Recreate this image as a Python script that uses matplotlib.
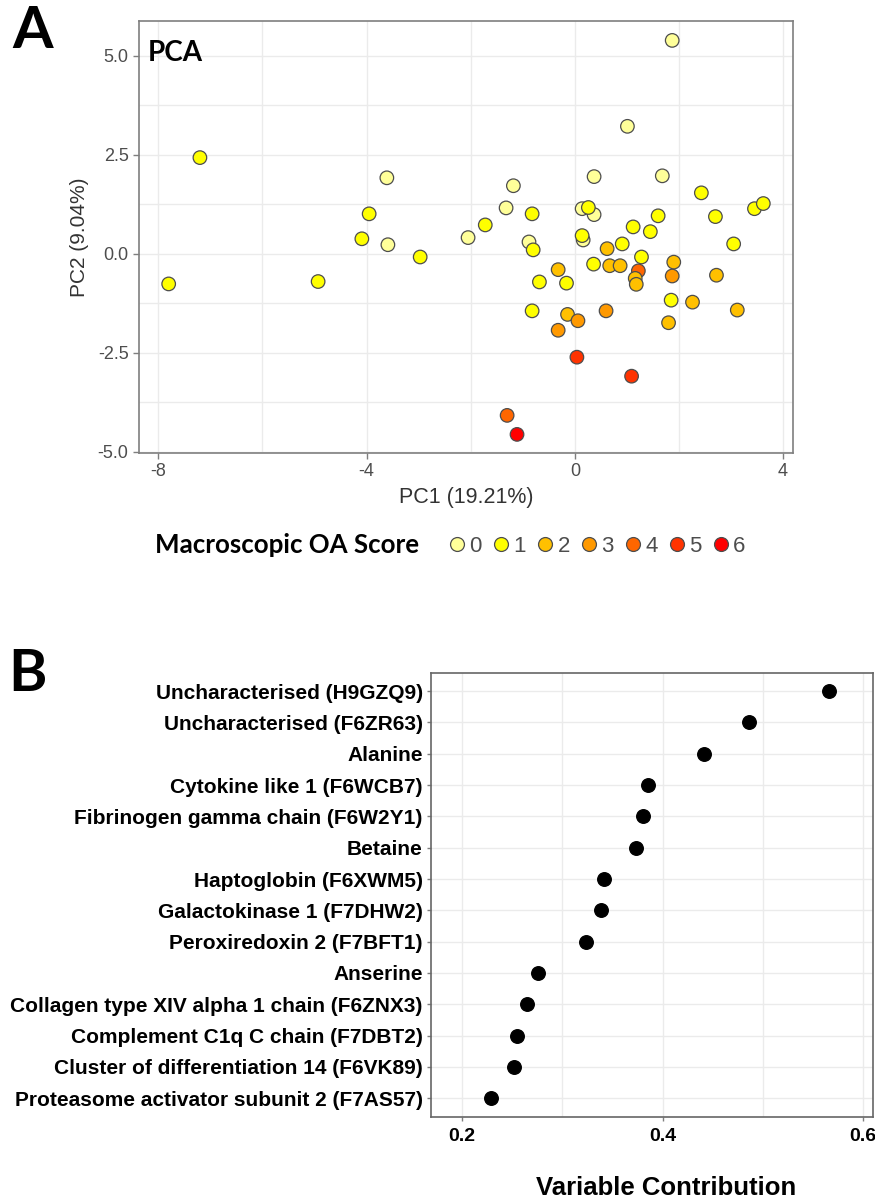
import matplotlib
matplotlib.use("Agg")
import matplotlib.pyplot as plt
from matplotlib.lines import Line2D
from matplotlib.ticker import MultipleLocator

# panel A: PCA scores, coloured by macroscopic OA score
pc1 = [-7.80, -7.20, -4.93, -4.09, -3.95, -3.61, -3.59, -2.97, -2.05, -1.72,
       -1.18, -1.32, -0.82, 0.14, 0.37, 0.26, 0.37, 1.01, 1.87, 1.68,
       2.43, 3.45, 3.62, 2.70, 1.60, 1.12, 1.45, 0.16, 0.14, -0.88,
       -0.80, 3.05, 0.62, 0.91, 1.28, 0.36, 0.67, 0.87, -0.32, 1.90,
       1.22, 1.16, 1.18, 1.87, 2.72, -0.68, -0.16, -0.82, -0.14, 0.06,
       0.60, -0.32, 1.85, 2.26, 3.12, 1.80, 0.04, 1.09, -1.30, -1.11]
pc2 = [-0.76, 2.43, -0.70, 0.38, 1.01, 1.92, 0.23, -0.08, 0.41, 0.73,
       1.72, 1.16, 1.01, 1.14, 0.99, 1.17, 1.95, 3.22, 5.39, 1.97,
       1.54, 1.14, 1.27, 0.94, 0.96, 0.68, 0.56, 0.35, 0.46, 0.30,
       0.10, 0.25, 0.13, 0.25, -0.08, -0.26, -0.30, -0.30, -0.40, -0.21,
       -0.43, -0.62, -0.77, -0.56, -0.54, -0.71, -0.74, -1.44, -1.53, -1.69,
       -1.44, -1.93, -1.17, -1.22, -1.42, -1.74, -2.61, -3.09, -4.08, -4.56]
oa_score = [1, 1, 1, 1, 1, 0, 0, 1, 0, 1,
            0, 0, 1, 0, 0, 1, 0, 0, 0, 0,
            1, 1, 1, 1, 1, 1, 1, 0, 1, 0,
            1, 1, 2, 1, 1, 1, 2, 2, 2, 2,
            4, 2, 2, 3, 2, 1, 1, 1, 2, 3,
            3, 3, 1, 2, 2, 2, 5, 5, 4, 6]
score_levels = [0, 1, 2, 3, 4, 5, 6]
score_colors = ["#FFFF99", "#FFFF00", "#FFC000", "#FF9900", "#FF6600", "#FF3300", "#FF0000"]

# panel B: variable contributions
variables = ["Uncharacterised (H9GZQ9)", "Uncharacterised (F6ZR63)", "Alanine",
             "Cytokine like 1 (F6WCB7)", "Fibrinogen gamma chain (F6W2Y1)", "Betaine",
             "Haptoglobin (F6XWM5)", "Galactokinase 1 (F7DHW2)", "Peroxiredoxin 2 (F7BFT1)",
             "Anserine", "Collagen type XIV alpha 1 chain (F6ZNX3)",
             "Complement C1q C chain (F7DBT2)", "Cluster of differentiation 14 (F6VK89)",
             "Proteasome activator subunit 2 (F7AS57)"]
contribution = [0.566, 0.486, 0.441, 0.386, 0.381, 0.374, 0.342, 0.339, 0.324,
                0.276, 0.265, 0.255, 0.252, 0.229]

grid_col = "#EBEBEB"

fig = plt.figure(figsize=(8.75, 12.02), dpi=100)

# ---------------- panel A ----------------
ax = fig.add_axes([139 / 875, 1 - 453 / 1202, 654 / 875, 432 / 1202])
cols = [score_colors[s] for s in oa_score]
ax.scatter(pc1, pc2, s=95, c=cols, edgecolors="#4D4D4D", linewidths=0.9, zorder=3)
ax.set_xlim(-8.37, 4.19)
ax.set_ylim(-5.03, 5.88)
ax.set_xticks([-8, -4, 0, 4])
ax.set_xticklabels(["-8", "-4", "0", "4"])
ax.set_yticks([-5.0, -2.5, 0.0, 2.5, 5.0])
ax.set_yticklabels(["-5.0", "-2.5", "0.0", "2.5", "5.0"])
ax.xaxis.set_minor_locator(MultipleLocator(2))
ax.yaxis.set_minor_locator(MultipleLocator(1.25))
ax.grid(True, which="both", color=grid_col, lw=1.0, zorder=0)
ax.tick_params(which="minor", length=0)
ax.tick_params(which="major", colors="#7F7F7F", labelcolor="#4D4D4D", labelsize=13,
               length=4, width=1)
for sp in ax.spines.values():
    sp.set_color("#7F7F7F")
    sp.set_linewidth(1.2)
ax.set_axisbelow(True)
ax.set_xlabel("PC1 (19.21%)", fontsize=15.5, color="#333333", family="Liberation Sans", labelpad=5)
ax.set_ylabel("PC2 (9.04%)", fontsize=15, color="#333333", family="Liberation Sans", labelpad=6)
for lab in ax.get_xticklabels() + ax.get_yticklabels():
    lab.set_family("Liberation Sans")
ax.text(0.014, 0.955, "PCA", transform=ax.transAxes, fontsize=20, fontweight="bold",
        family="Lato", va="top", ha="left")

fig.text(12 / 875, 1 - 5 / 1202, "A", fontsize=42, fontweight="bold", family="Lato",
         va="top", ha="left")

# legend
fig.text(155 / 875, 1 - 545 / 1202, "Macroscopic OA Score", fontsize=18.6, fontweight="bold",
         family="Lato", va="center", ha="left")
handles = [Line2D([], [], marker="o", ls="", markersize=10, markerfacecolor=c,
                  markeredgecolor="#4D4D4D", markeredgewidth=0.9) for c in score_colors]
leg = fig.legend(handles, [str(s) for s in score_levels], ncol=7, frameon=False,
                 loc="center left", bbox_to_anchor=(448 / 875, 1 - 546 / 1202),
                 handlelength=0.85, handletextpad=0.12, columnspacing=0.45,
                 borderaxespad=0, borderpad=0,
                 prop={"family": "Liberation Sans", "size": 16})
for t in leg.get_texts():
    t.set_color("#4D4D4D")

# ---------------- panel B ----------------
bx = fig.add_axes([431 / 875, 1 - 1117 / 1202, 442 / 875, 444 / 1202])
ypos = list(range(len(variables)))
bx.scatter(contribution, ypos, s=95, color="black", zorder=3)
bx.set_ylim(len(variables) - 1 + 0.6, -0.58)
bx.set_xlim(0.169, 0.61)
bx.set_yticks(ypos)
bx.set_yticklabels(variables)
bx.set_xticks([0.2, 0.4, 0.6])
bx.set_xticklabels(["0.2", "0.4", "0.6"])
bx.xaxis.set_minor_locator(MultipleLocator(0.1))
bx.grid(True, which="both", axis="x", color=grid_col, lw=1.0, zorder=0)
bx.grid(True, which="major", axis="y", color=grid_col, lw=1.0, zorder=0)
bx.tick_params(which="minor", length=0)
bx.tick_params(which="major", colors="#7F7F7F", labelcolor="black", length=3, width=1)
bx.tick_params(axis="y", labelsize=15, pad=3)
bx.tick_params(axis="x", labelsize=14, pad=5)
for lab in bx.get_xticklabels() + bx.get_yticklabels():
    lab.set_family("Liberation Sans")
    lab.set_fontweight("bold")
for sp in bx.spines.values():
    sp.set_color("#666666")
    sp.set_linewidth(1.2)
bx.set_axisbelow(True)

fig.text(666 / 875, 1 - 1188 / 1202, "Variable Contribution", fontsize=18.5,
         fontweight="bold", family="Liberation Sans", ha="center", va="center")

fig.text(8 / 875, 1 - 648 / 1202, "B", fontsize=42, fontweight="bold", family="Lato",
         va="top", ha="left")

fig.savefig("out.png", dpi=100)
